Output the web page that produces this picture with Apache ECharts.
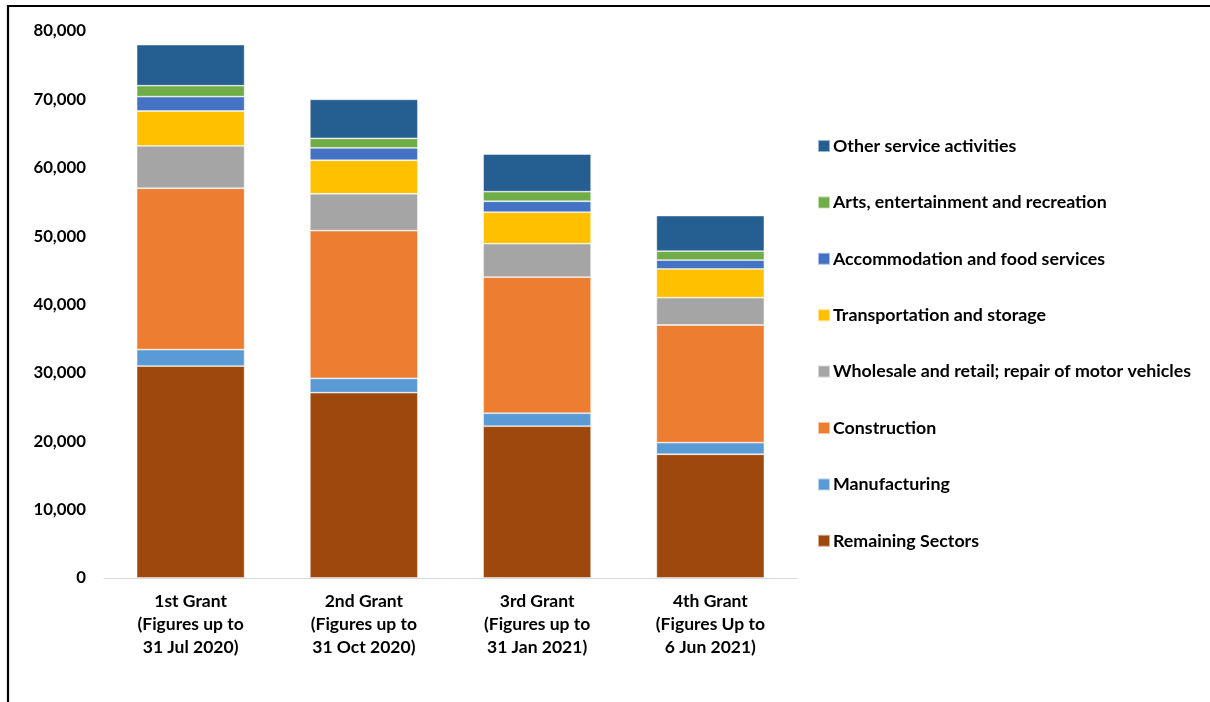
<!DOCTYPE html>
<html>
<head>
<meta charset="utf-8">
<script src="https://cdn.jsdelivr.net/npm/echarts@6/dist/echarts.min.js"></script>
<style>
  html, body { margin: 0; padding: 0; background: #fff; }
  #chart { width: 1210px; height: 702px; }
</style>
</head>
<body>
<div id="chart"></div>
<script>
// Grant rounds shown along the x axis
const categories = [
  '1st Grant\n(Figures up to\n31 Jul 2020)',
  '2nd Grant\n(Figures up to\n31 Oct 2020)',
  '3rd Grant\n(Figures up to\n31 Jan 2021)',
  '4th Grant\n(Figures Up to\n6 Jun 2021)'
];

// Number of grants by sector, stacked bottom to top
const remainingSectors  = [31000, 27100, 22200, 18100];
const manufacturing     = [2400, 2100, 1900, 1700];
const construction      = [23600, 21600, 19900, 17200];
const wholesaleRetail   = [6200, 5400, 4900, 4000];
const transportStorage  = [5100, 4900, 4600, 4200];
const accommodationFood = [2100, 1800, 1600, 1300];
const artsEntertainment = [1600, 1400, 1400, 1300];
const otherServices     = [6000, 5700, 5500, 5200];

const yTicks = { min: 0, max: 80000, interval: 10000 };

const seriesDefs = [
  { name: 'Remaining Sectors', data: remainingSectors, color: '#9E480E' },
  { name: 'Manufacturing', data: manufacturing, color: '#5B9BD5' },
  { name: 'Construction', data: construction, color: '#ED7D31' },
  { name: 'Wholesale and retail; repair of motor vehicles', data: wholesaleRetail, color: '#A5A5A5' },
  { name: 'Transportation and storage', data: transportStorage, color: '#FFC000' },
  { name: 'Accommodation and food services', data: accommodationFood, color: '#4472C4' },
  { name: 'Arts, entertainment and recreation', data: artsEntertainment, color: '#70AD47' },
  { name: 'Other service activities', data: otherServices, color: '#255E91' }
];

const FONT = 'Lato, "Open Sans", sans-serif';

const chart = echarts.init(document.getElementById('chart'), null, { renderer: 'canvas' });

chart.setOption({
  animation: false,
  backgroundColor: '#fff',
  textStyle: { fontFamily: FONT },
  grid: { left: 104, right: 413, top: 31, bottom: 124, containLabel: false },
  legend: {
    orient: 'vertical',
    left: 812,
    top: 132,
    padding: 5,
    itemWidth: 12,
    itemHeight: 12,
    itemGap: 38.4,
    icon: 'rect',
    data: seriesDefs.map(s => s.name).reverse(),
    textStyle: {
      fontFamily: FONT,
      fontWeight: 'bold',
      fontSize: 17.8,
      color: '#000',
      padding: [0, 0, 0, -2]
    }
  },
  xAxis: {
    type: 'category',
    data: categories,
    axisLine: { show: true, lineStyle: { color: '#D9D9D9', width: 1 } },
    axisTick: { show: false },
    axisLabel: {
      color: '#000',
      fontFamily: FONT,
      fontWeight: 'bold',
      fontSize: 17.5,
      lineHeight: 23,
      margin: 12,
      interval: 0
    }
  },
  yAxis: {
    type: 'value',
    min: yTicks.min,
    max: yTicks.max,
    interval: yTicks.interval,
    axisLine: { show: false },
    axisTick: { show: false },
    splitLine: { show: false },
    axisLabel: {
      color: '#000',
      fontFamily: FONT,
      fontWeight: 'bold',
      fontSize: 16.8,
      margin: 18,
      formatter: v => v.toLocaleString('en-US')
    }
  },
  series: seriesDefs.map(s => ({
    name: s.name,
    type: 'bar',
    stack: 'total',
    data: s.data,
    barWidth: 108,
    itemStyle: {
      color: s.color,
      borderColor: 'rgba(255,255,255,0.55)',
      borderWidth: 0.8
    },
    emphasis: { disabled: true }
  })),
  graphic: [
    {
      type: 'polyline',
      silent: true,
      shape: { points: [[8, 720], [8, 6], [1220, 6]] },
      style: { stroke: '#000', lineWidth: 2.2, fill: null }
    }
  ]
});
</script>
</body>
</html>
